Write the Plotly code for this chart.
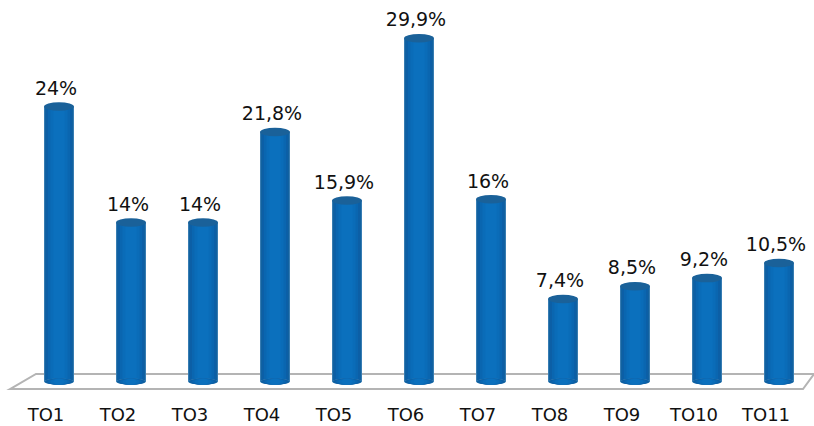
import plotly.graph_objects as go

categories = ["TO1", "TO2", "TO3", "TO4", "TO5", "TO6", "TO7", "TO8", "TO9", "TO10", "TO11"]
values = [24, 14, 14, 21.8, 15.9, 29.9, 16, 7.4, 8.5, 9.2, 10.5]
labels = ["24%", "14%", "14%", "21,8%", "15,9%", "29,9%", "16%", "7,4%", "8,5%", "9,2%", "10,5%"]

# cylinder shading: outer to inner layers (width in px, colour)
shading = [(30, "#5d97c6"), (29, "#12629f"), (26, "#0c5fa6"), (22, "#0a66b0"), (17, "#0a6cb8"), (11, "#0b70bd")]

PX_PER_CAT = 72.0
PX_PER_UNIT = 11.59
ZERO_PX = 385
PLOT_H = 402
W, H = 814, 426
BASE = 0.3
xs = list(range(len(categories)))
fig = go.Figure()
shapes = []

def fx(p): return p / W

shapes.append(dict(type="path", xref="paper", yref="y domain", layer="below",
    path=f"M {fx(10)} {(PLOT_H-389)/PLOT_H:.4f} L {fx(36)} {(PLOT_H-374)/PLOT_H:.4f} L {fx(814)} {(PLOT_H-374)/PLOT_H:.4f} "
         f"L {fx(803)} {(PLOT_H-389)/PLOT_H:.4f} Z",
    fillcolor="#ffffff", line=dict(color="#b4b4b4", width=2)))

for w, c in shading:
    fig.add_trace(go.Bar(x=xs, y=[v - BASE for v in values], base=BASE, width=w / PX_PER_CAT,
                         marker=dict(color=c, line=dict(width=0)), hoverinfo="skip", showlegend=False))
    for i in xs:
        shapes.append(dict(type="circle", xref="x", yref="y", xsizemode="pixel", ysizemode="pixel",
                           xanchor=i, yanchor=BASE, x0=-w / 2, x1=w / 2, y0=-3, y1=3,
                           fillcolor=c, line=dict(width=0), layer="above"))

for i, v in zip(xs, values):
    shapes.append(dict(type="circle", xref="x", yref="y", xsizemode="pixel", ysizemode="pixel",
                       xanchor=i, yanchor=v, x0=-15, x1=15, y0=-4, y1=4.5,
                       fillcolor="#1a6199", line=dict(width=0), layer="above"))

fig.add_trace(go.Scatter(x=[i - 3 / PX_PER_CAT for i in xs], y=values, mode="markers+text", text=labels,
                         textposition="top center", marker=dict(size=10, opacity=0),
                         textfont=dict(family="DejaVu Sans", size=19, color="#111111"),
                         hoverinfo="skip", showlegend=False, cliponaxis=False))

fig.update_layout(
    width=W, height=H, barmode="overlay", paper_bgcolor="white", plot_bgcolor="rgba(0,0,0,0)",
    margin=dict(l=0, r=0, t=0, b=H - PLOT_H, pad=0), shapes=shapes, showlegend=False,
    font=dict(family="DejaVu Sans", color="#111111"),
    xaxis=dict(range=[-59 / PX_PER_CAT, (W - 59) / PX_PER_CAT], tickmode="array", automargin=False,
               tickvals=[i - 13 / PX_PER_CAT for i in xs],
               ticktext=categories, showgrid=False, zeroline=False, showline=False, ticks="",
               tickfont=dict(family="DejaVu Sans", size=18, color="#111111")),
    yaxis=dict(range=[(ZERO_PX - PLOT_H) / PX_PER_UNIT, ZERO_PX / PX_PER_UNIT], visible=False,
               automargin=False, showgrid=False, zeroline=False),
)
fig.write_html("out.html", config=dict(displayModeBar=False),
               post_script="document.body.style.margin='0';document.body.style.overflow='hidden';")
